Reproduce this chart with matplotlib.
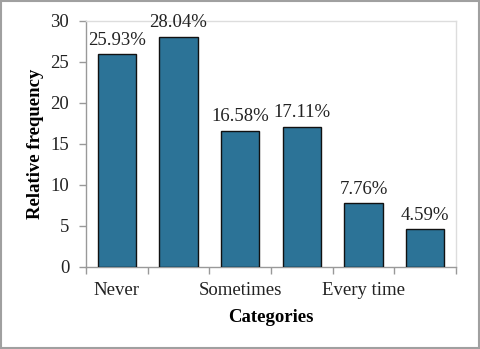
import matplotlib.pyplot as plt
from matplotlib.patches import Rectangle

categories = ["Never", "", "Sometimes", "", "Every time", ""]
values = [25.93, 28.04, 16.58, 17.11, 7.76, 4.59]
yticks = [0, 5, 10, 15, 20, 25, 30]

plt.rcParams["font.family"] = ["Liberation Serif", "DejaVu Serif"]

fig = plt.figure(figsize=(4.8, 3.49), dpi=100)
ax = fig.add_axes([0.179, 0.235, 0.771, 0.705])

x = list(range(len(values)))
ax.bar(x, values, width=0.62, color="#2c7397", edgecolor="#111111", linewidth=1.0, zorder=3)

for xi, v in zip(x, values):
    ax.annotate(f"{v:.2f}%", (xi, v), xytext=(0, 4), textcoords="offset points",
                ha="center", va="bottom", fontsize=13.5, color="#222222")

ax.set_xlim(-0.5, len(values) - 0.5)
ax.set_ylim(0, 30)
ax.set_yticks(yticks)
ax.set_xticks(x)
ax.set_xticklabels(categories)
ax.set_xticks([i - 0.5 for i in range(len(values) + 1)], minor=True)
ax.tick_params(axis="x", which="major", length=0, pad=11, labelsize=13.5, labelcolor="#222222")
ax.tick_params(axis="x", which="minor", length=5, color="#999999", width=1)
ax.tick_params(axis="y", length=5, color="#999999", width=1, pad=7, labelsize=13.5, labelcolor="#222222")

for side in ["left", "bottom"]:
    ax.spines[side].set_color("#999999")
    ax.spines[side].set_linewidth(1)
for side in ["top", "right"]:
    ax.spines[side].set_color("#dddddd")
    ax.spines[side].set_linewidth(1)

ax.set_xlabel("Categories", fontsize=13.5, fontweight="bold", labelpad=7)
ax.set_ylabel("Relative frequency", fontsize=13.5, fontweight="bold", labelpad=5)

fig.patches.append(Rectangle((0.002, 0.003), 0.996, 0.994, transform=fig.transFigure,
                             fill=False, edgecolor="#a0a0a0", linewidth=1.5))

fig.savefig("out.png", dpi=100)
